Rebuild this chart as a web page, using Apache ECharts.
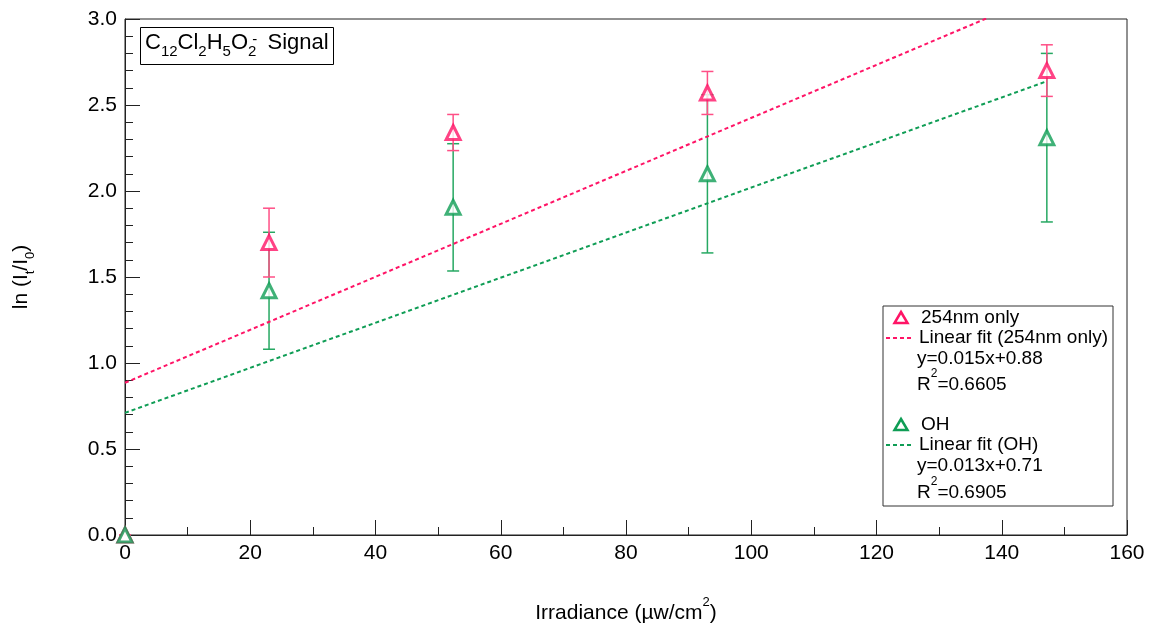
<!DOCTYPE html>
<html>
<head>
<meta charset="utf-8">
<script src="https://cdn.jsdelivr.net/npm/echarts@6/dist/echarts.min.js"></script>
<style>html,body{margin:0;padding:0;background:#fff}#c{width:1149px;height:628px}</style>
</head>
<body>
<div id="c"></div>
<script>
// ---- data ----
const irradiance = [0, 23.0, 52.4, 93.0, 147.2];
const nm254 = [0, 1.70, 2.34, 2.57, 2.70];
const nm254Err = [0, 0.20, 0.105, 0.125, 0.15];
const oh = [0, 1.42, 1.905, 2.10, 2.31];
const ohErr = [0, 0.34, 0.37, 0.46, 0.49];
const fit254 = [0.0154, 0.885];   // slope, intercept (drawn)
const fitOH = [0.0131, 0.71];
const fitRange = [0, 147.2];
const xTicks = [0, 20, 40, 60, 80, 100, 120, 140, 160];
const yTicks = [0.0, 0.5, 1.0, 1.5, 2.0, 2.5, 3.0];

const PINK = '#ff1466', PINK_L = '#ff4f86';
const GREEN = '#0f9d55', GREEN_L = '#26a862';
const FONT = '"Liberation Sans", Arial, Helvetica, sans-serif';

function fitLine(p) { return fitRange.map(x => [x, p[0] * x + p[1]]); }
function errData(ys, es) { return irradiance.map((x, i) => [x, ys[i] - es[i], ys[i] + es[i]]); }
function errSeries(data, color) {
  return {
    type: 'custom', data: data, z: 2, silent: true,
    renderItem: function (params, api) {
      const lo = api.coord([api.value(0), api.value(1)]);
      const hi = api.coord([api.value(0), api.value(2)]);
      const w = 6;
      const st = { stroke: color, lineWidth: 1.5, fill: null };
      return { type: 'group', children: [
        { type: 'line', shape: { x1: lo[0], y1: lo[1], x2: hi[0], y2: hi[1] }, style: st },
        { type: 'line', shape: { x1: lo[0] - w, y1: lo[1], x2: lo[0] + w, y2: lo[1] }, style: st },
        { type: 'line', shape: { x1: hi[0] - w, y1: hi[1], x2: hi[0] + w, y2: hi[1] }, style: st }
      ]};
    }
  };
}

const chart = echarts.init(document.getElementById('c'));
const lbl = { fontFamily: FONT, fontSize: 21, color: '#000' };
const LF = '19px ' + FONT;

function tri(cx, cy, color) {
  return { type: 'polygon', shape: { points: [[cx, cy - 6], [cx + 6.5, cy + 5], [cx - 6.5, cy + 5]] },
    style: { fill: '#fff', stroke: color, lineWidth: 2.5 } };
}
function richTxt(x, y, text) {
  return { type: 'text', x: x, y: y, style: { text: text, fontFamily: FONT, fontSize: 19, fill: '#000',
    verticalAlign: 'middle',
    rich: { a: { fontFamily: FONT, fontSize: 19, fill: '#000', lineHeight: 26, verticalAlign: 'bottom' },
            s: { fontFamily: FONT, fontSize: 12, fill: '#000', lineHeight: 26, verticalAlign: 'top', padding: [0, 0, 6, 0] } } } };
}

chart.setOption({
  animation: false,
  grid: { left: 125, right: 22, top: 19, bottom: 93, show: true, borderColor: '#222', borderWidth: 1,
          outerBoundsMode: 'none', containLabel: false },
  title: {
    left: 140, top: 27, padding: [5, 5, 6, 5], borderColor: '#000', borderWidth: 1,
    text: '{n|C}{b|12}{n|Cl}{b|2}{n|H}{b|5}{n|O}{b|2}{p|-}{n| Signal}',
    textStyle: {
      fontWeight: 'normal',
      rich: {
        n: { fontFamily: FONT, fontSize: 22, fontWeight: 'normal', color: '#000', lineHeight: 30, verticalAlign: 'top' },
        b: { fontFamily: FONT, fontSize: 15, fontWeight: 'normal', color: '#000', lineHeight: 30, verticalAlign: 'top', padding: [12, 0, 0, 0] },
        p: { fontFamily: FONT, fontSize: 15, fontWeight: 'normal', color: '#000', lineHeight: 30, verticalAlign: 'top', padding: [0, 4, 0, -4] }
      }
    }
  },
  xAxis: {
    type: 'value', min: 0, max: 160, interval: 20,
    name: '{a|Irradiance (µw/cm}{s|2}{a|)}', nameLocation: 'middle', nameGap: 61,
    nameTextStyle: { rich: {
      a: { fontFamily: FONT, fontSize: 21, color: '#000', lineHeight: 28, verticalAlign: 'bottom' },
      s: { fontFamily: FONT, fontSize: 13, color: '#000', lineHeight: 28, verticalAlign: 'top', padding: [0, 0, 8, 0] } } },
    axisLine: { lineStyle: { color: '#222', width: 1 } },
    axisTick: { inside: true, length: 15, lineStyle: { color: '#222' } },
    minorTick: { show: true, splitNumber: 2, length: 8, lineStyle: { color: '#222' } },
    splitLine: { show: false },
    axisLabel: Object.assign({ margin: 8, formatter: v => xTicks.includes(v) ? String(v) : '' }, lbl)
  },
  yAxis: {
    type: 'value', min: 0, max: 3, interval: 0.5,
    name: '{a|ln (I}{b|t}{a|/I}{b|0}{a|)}', nameLocation: 'middle', nameGap: 86, nameRotate: 90,
    nameTextStyle: { rich: {
      a: { fontFamily: FONT, fontSize: 21, color: '#000', lineHeight: 28, verticalAlign: 'top' },
      b: { fontFamily: FONT, fontSize: 13, color: '#000', lineHeight: 28, verticalAlign: 'top', padding: [13, 0, 0, 0] } } },
    axisLine: { lineStyle: { color: '#222', width: 1 } },
    axisTick: { inside: true, length: 15, lineStyle: { color: '#222' } },
    minorTick: { show: true, splitNumber: 5, length: 8, lineStyle: { color: '#222' } },
    splitLine: { show: false },
    axisLabel: Object.assign({ margin: 8, formatter: v => yTicks.map(t => t.toFixed(1)).includes(v.toFixed(1)) ? v.toFixed(1) : '' }, lbl)
  },
  series: [
    errSeries(errData(oh, ohErr), GREEN_L),
    errSeries(errData(nm254, nm254Err), PINK_L),
    { type: 'line', data: fitLine(fit254), showSymbol: false, z: 3, clip: true,
      lineStyle: { color: PINK, width: 2, type: [4, 3] } },
    { type: 'line', data: fitLine(fitOH), showSymbol: false, z: 3, clip: true,
      lineStyle: { color: GREEN, width: 2, type: [4, 3] } },
    { type: 'scatter', data: irradiance.map((x, i) => [x, nm254[i]]), symbol: 'triangle', symbolSize: 14, z: 5,
      clip: false, itemStyle: { color: '#fff', borderColor: PINK, borderWidth: 3 } },
    { type: 'scatter', data: irradiance.map((x, i) => [x, oh[i]]), symbol: 'triangle', symbolSize: 14, z: 6,
      clip: false, itemStyle: { color: '#fff', borderColor: GREEN, borderWidth: 3 } }
  ],
  graphic: [
    { type: 'rect', shape: { x: 883, y: 306, width: 230, height: 200 },
      style: { fill: '#fff', stroke: '#333', lineWidth: 1 }, z: 10 },
    Object.assign(tri(901, 318, PINK), { z: 11 }),
    { type: 'text', x: 921, y: 318, z: 11, style: { text: '254nm only', verticalAlign: 'middle', fill: '#000', font: LF } },
    { type: 'line', z: 11, shape: { x1: 886, y1: 338, x2: 914, y2: 338 }, style: { stroke: PINK, lineWidth: 2, lineDash: [4, 3] } },
    { type: 'text', x: 919, y: 338, z: 11, style: { text: 'Linear fit (254nm only)', verticalAlign: 'middle', fill: '#000', font: LF } },
    { type: 'text', x: 917, y: 359, z: 11, style: { text: 'y=0.015x+0.88', verticalAlign: 'middle', fill: '#000', font: LF } },
    Object.assign(richTxt(917, 381, '{a|R}{s|2}{a|=0.6605}'), { z: 11 }),
    Object.assign(tri(901, 425, GREEN), { z: 11 }),
    { type: 'text', x: 921, y: 425, z: 11, style: { text: 'OH', verticalAlign: 'middle', fill: '#000', font: LF } },
    { type: 'line', z: 11, shape: { x1: 886, y1: 445, x2: 914, y2: 445 }, style: { stroke: GREEN, lineWidth: 2, lineDash: [4, 3] } },
    { type: 'text', x: 919, y: 445, z: 11, style: { text: 'Linear fit (OH)', verticalAlign: 'middle', fill: '#000', font: LF } },
    { type: 'text', x: 917, y: 466, z: 11, style: { text: 'y=0.013x+0.71', verticalAlign: 'middle', fill: '#000', font: LF } },
    Object.assign(richTxt(917, 489, '{a|R}{s|2}{a|=0.6905}'), { z: 11 })
  ]
});
</script>
</body>
</html>
